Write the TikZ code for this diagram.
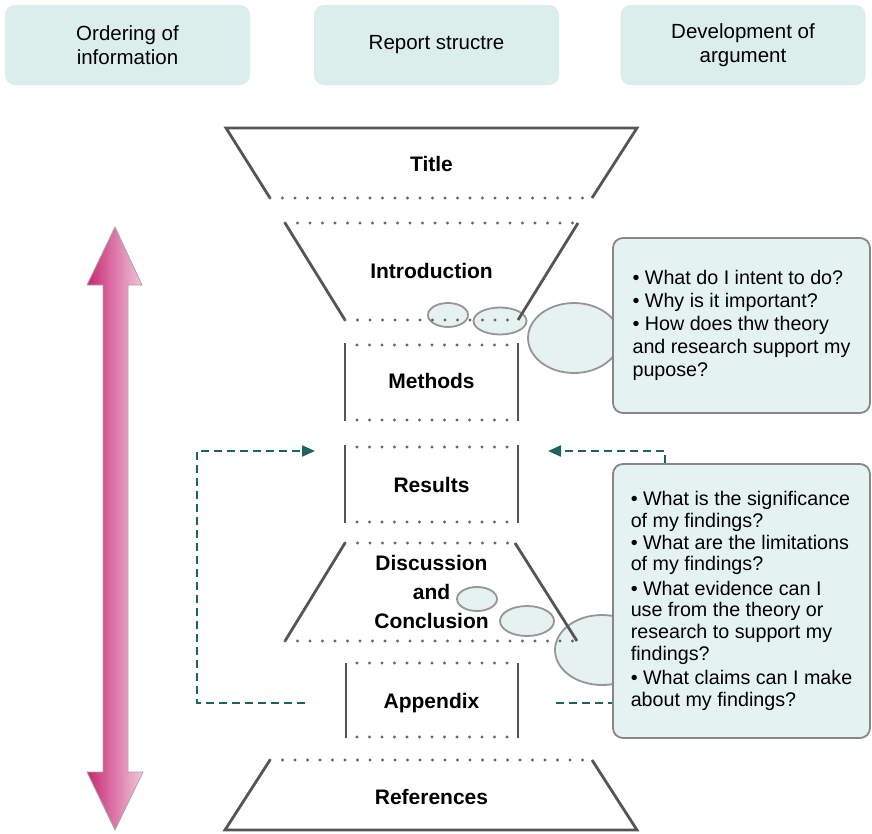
\documentclass[tikz,border=0pt]{standalone}
\usepackage{fontspec}
\setmainfont{Liberation Sans}
\usetikzlibrary{arrows.meta,shapes.geometric}
\definecolor{hdrfill}{RGB}{220,238,236}
\definecolor{callfill}{RGB}{229,242,242}
\definecolor{callline}{RGB}{135,135,135}
\definecolor{funline}{RGB}{85,85,85}
\definecolor{dotline}{RGB}{100,100,100}
\definecolor{dteal}{RGB}{30,100,92}
\definecolor{pinkdark}{RGB}{200,40,115}
\definecolor{pinklight}{RGB}{242,200,222}
\definecolor{bubfill}{RGB}{230,242,240}
\definecolor{bubline}{RGB}{150,150,150}
\tikzset{
  hdr/.style={fill=hdrfill, rounded corners=10pt, minimum width=245pt, minimum height=80pt, align=center, inner sep=0pt, font=\fontsize{20.5}{24}\selectfont},
  lbl/.style={align=center, font=\bfseries\fontsize{21}{29}\selectfont},
  callout/.style={draw=callline, line width=1.8pt, fill=callfill, rounded corners=10pt, minimum width=257pt, align=left, inner sep=0pt},
  bubble/.style={ellipse, draw=bubline, line width=1.8pt, fill=bubfill, inner sep=0pt},
  funsolid/.style={draw=funline, line width=2.8pt, line join=miter},
  fundot/.style={draw=dotline, line width=3.2pt, line cap=round, dash pattern=on 0pt off 12.5pt},
  dasharrow/.style={draw=dteal, line width=2.2pt, dash pattern=on 8pt off 5pt},
  tealtip/.style={-{Triangle[length=13pt,width=11pt]}}
}
\begin{document}
\begin{tikzpicture}[x=1pt,y=-1pt]
\useasboundingbox (0,0) rectangle (872,833);
\fill[white] (0,0) rectangle (872,833);

% header boxes
\node[hdr] (h1) at (127.5,45) {Ordering of\\information};
\node[hdr] (h2) at (436.5,45) {Report structre};
\node[hdr] (h3) at (743,45) {Development of\\argument};

% pink double arrow
\shade[left color=pinkdark, right color=pinklight, draw=gray!70, line width=0.8pt]
  (115,227) -- (142,285) -- (128,285) -- (128,772) -- (143,772) -- (115,830)
  -- (87,772) -- (103,772) -- (103,285) -- (87,285) -- cycle;

% bubbles
\node[bubble, minimum width=40pt, minimum height=24pt] (e1a) at (448,315) {};
\node[bubble, minimum width=53pt, minimum height=27pt] (e1b) at (500,321) {};
\node[bubble, minimum width=92pt, minimum height=70pt] (e1c) at (574,338) {};
\node[bubble, minimum width=40pt, minimum height=24pt] (e2a) at (477,599) {};
\node[bubble, minimum width=54pt, minimum height=30pt] (e2b) at (527,621) {};
\node[bubble, minimum width=94pt, minimum height=70pt] (e2c) at (602,650) {};

% Title
\draw[funsolid] (270,198) -- (226,128) -- (637,128) -- (592,198);
\draw[fundot] (270,198) -- (592,198);
% Introduction
\draw[fundot] (285,223) -- (578,223);
\draw[funsolid] (285,223) -- (345,320);
\draw[funsolid] (578,223) -- (518,320);
\draw[fundot] (345,320) -- (518,320);
% Methods
\draw[funsolid] (345,343) -- (345,421);
\draw[funsolid] (518,343) -- (518,421);
\draw[fundot] (357,345) -- (508,345);
\draw[fundot] (357,420) -- (508,420);
% Results
\draw[funsolid] (345,445) -- (345,523);
\draw[funsolid] (518,445) -- (518,523);
\draw[fundot] (357,447) -- (508,447);
\draw[fundot] (357,522) -- (508,522);
% Discussion
\draw[fundot] (345,543) -- (515,543);
\draw[funsolid] (345,543) -- (285,641);
\draw[funsolid] (515,543) -- (577,641);
\draw[fundot] (285,641) -- (577,641);
% Appendix
\draw[funsolid] (346,663) -- (346,738);
\draw[funsolid] (518,663) -- (518,738);
\draw[fundot] (357,663) -- (508,663);
\draw[fundot] (357,737) -- (508,737);
% References
\draw[fundot] (270,760) -- (592,760);
\draw[funsolid] (270,760) -- (225,830) -- (637,830) -- (592,760);

% labels
\node[lbl] (lt) at (431.5,164) {Title};
\node[lbl] (li) at (431.5,271) {Introduction};
\node[lbl] (lm) at (431.5,381) {Methods};
\node[lbl] (lr) at (431.5,485) {Results};
\node[lbl] (ld) at (431.5,592) {Discussion\\and\\Conclusion};
\node[lbl] (la) at (431.5,703) {Appendix};
\node[lbl] (lf) at (431.5,797) {References};

% callouts
\node[callout, minimum height=175pt, font=\fontsize{19.7}{23}\selectfont] (c1) at (741.5,325.5)
  {• What do I intent to do?\\• Why is it important?\\• How does thw theory\\and research support my\\pupose?};
\node[callout, minimum height=274pt, font=\fontsize{19.7}{21.7}\selectfont] (c2) at (741.5,601)
  {• What is the significance\\of my findings?\\• What are the limitations\\of my findings?\\[2.5pt]• What evidence can I\\use from the theory or\\research to support my\\findings?\\[3pt]• What claims can I make\\about my findings?};

% dashed connectors
\coordinate (la0) at (305,703);
\coordinate (la1) at (197,703);
\coordinate (la2) at (197,451);
\coordinate (la3) at (315,451);
\draw[dasharrow, tealtip] (la0) -- (la1) -- (la2) -- (la3);
\coordinate (ra1) at (665,451);
\coordinate (ra2) at (548,451);
\draw[dasharrow, tealtip] (c2.north -| ra1) -- (ra1) -- (ra2);
\coordinate (rb0) at (556,703);
\draw[dasharrow] (rb0) -- (rb0 -| c2.west);
\end{tikzpicture}
\end{document}
